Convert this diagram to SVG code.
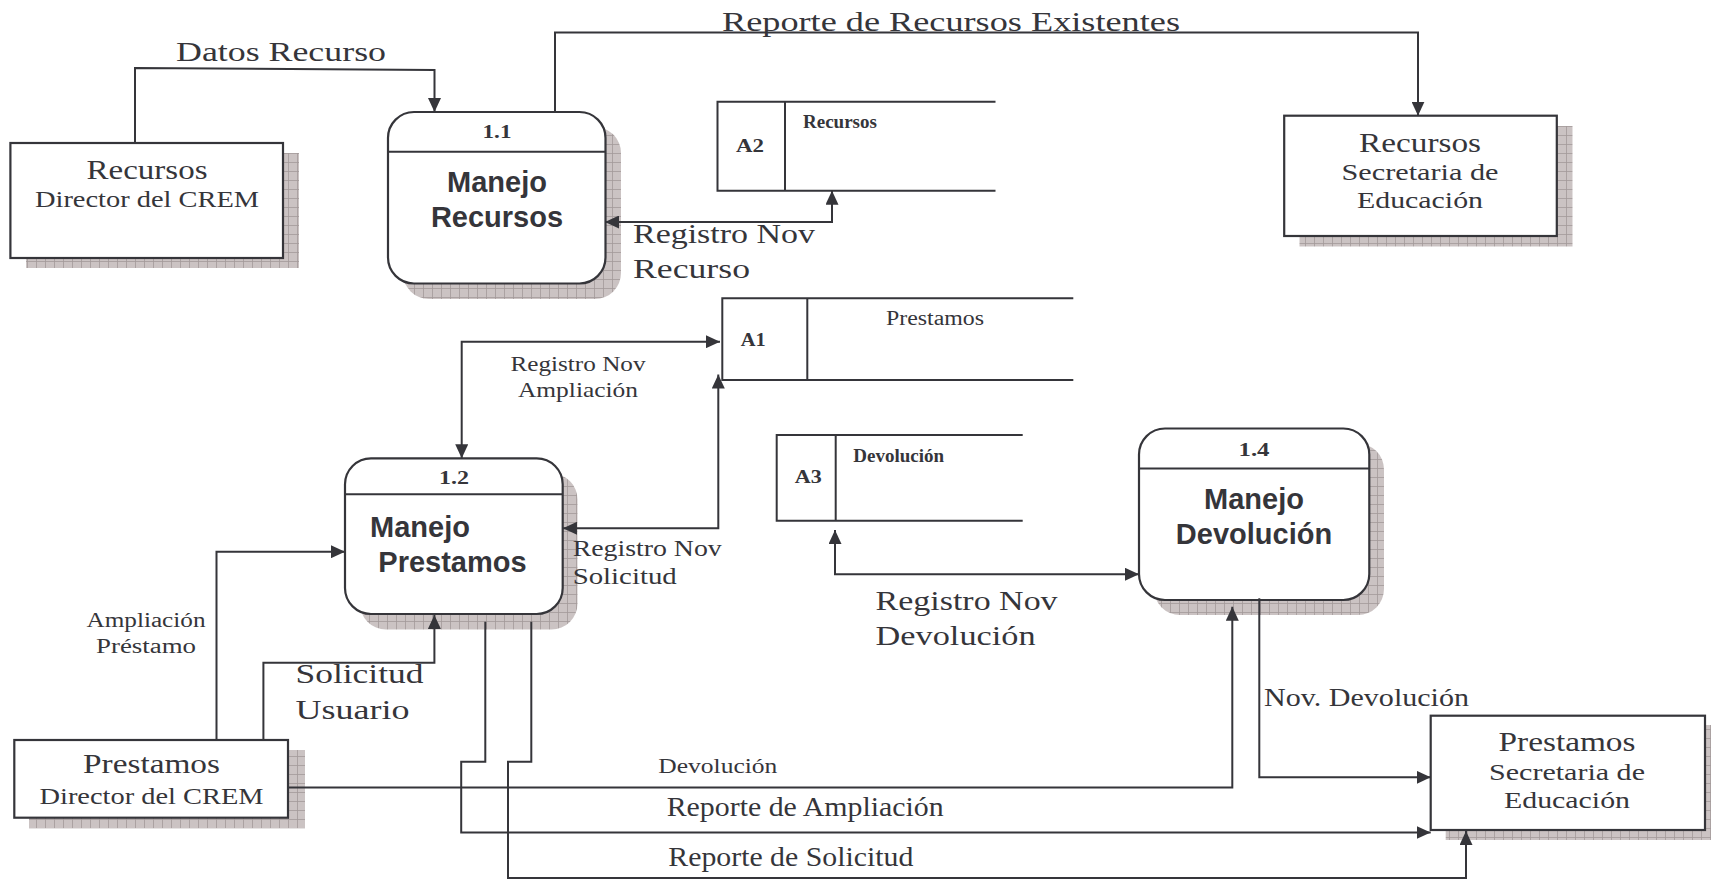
<svg xmlns="http://www.w3.org/2000/svg" width="1711" height="879" viewBox="0 0 1711 879">
  <defs>
    <!-- cross-hatched drop shadow fill -->
    <pattern id="hatch" width="9" height="9" patternUnits="userSpaceOnUse">
      <rect width="9" height="9" fill="#cbc3c3"/>
      <path d="M0,0.4 H9 M0.4,0 V9" stroke="#a29a9a" stroke-width="0.9" fill="none"/>
    </pattern>
    <marker id="arrow" viewBox="0 0 14 13" markerWidth="14" markerHeight="13" refX="14" refY="6.5" orient="auto-start-reverse" markerUnits="userSpaceOnUse">
      <path d="M0,0 L14,6.5 L0,13 z" fill="#35353a"/>
    </marker>
    <style>
      .box { fill: #ffffff; stroke: #35353a; stroke-width: 2.2; }
      .shadow { fill: url(#hatch); stroke: none; }
      .rule { stroke: #35353a; stroke-width: 2; fill: none; }
      .flow { stroke: #35353a; stroke-width: 2; fill: none; }
      .arr { marker-end: url(#arrow); }
      .both { marker-start: url(#arrow); marker-end: url(#arrow); }
      .serif { font-family: "Liberation Serif", "Times New Roman", serif; fill: #35353a; }
      .num { font-family: "Liberation Serif", "Times New Roman", serif; font-weight: bold; font-size: 19px; fill: #35353a; }
      .title { font-family: "Liberation Sans", Arial, sans-serif; font-weight: bold; font-size: 29px; fill: #35353a; }
      .storename { font-family: "Liberation Serif", "Times New Roman", serif; font-weight: bold; font-size: 19px; fill: #35353a; }
    </style>
  </defs>

  <rect width="1711" height="879" fill="#ffffff"/>

  <!-- external entity: Recursos / Director del CREM -->
  <g id="ent-recursos-director">
    <rect class="shadow" x="26" y="153" width="273" height="115"/>
    <rect class="box" x="10.4" y="143" width="272.6" height="115"/>
    <text class="serif" x="147" y="179" font-size="27" text-anchor="middle" textLength="121" lengthAdjust="spacingAndGlyphs">Recursos</text>
    <text class="serif" x="147" y="207.3" font-size="24" text-anchor="middle" textLength="224" lengthAdjust="spacingAndGlyphs">Director del CREM</text>
  </g>

  <!-- process 1.1 -->
  <g id="proc-1-1">
    <rect class="shadow" x="403" y="127" width="218" height="172" rx="26"/>
    <rect class="box" x="388" y="112" width="217.5" height="171.5" rx="26"/>
    <line class="rule" x1="388" y1="151.7" x2="605.5" y2="151.7"/>
    <text class="num" x="497" y="138" text-anchor="middle" textLength="29" lengthAdjust="spacingAndGlyphs">1.1</text>
    <text class="title" x="497" y="192" text-anchor="middle">Manejo</text>
    <text class="title" x="497" y="227" text-anchor="middle">Recursos</text>
  </g>

  <!-- data store A2 -->
  <g id="store-a2">
    <path class="rule" d="M995.5,101.7 H717.5 V190.7 H995.5 M785,101.7 V190.7"/>
    <text class="num" x="750" y="152" text-anchor="middle" textLength="28" lengthAdjust="spacingAndGlyphs">A2</text>
    <text class="storename" x="803" y="128">Recursos</text>
  </g>

  <!-- external entity: Recursos / Secretaria de Educación -->
  <g id="ent-recursos-secretaria">
    <rect class="shadow" x="1299.5" y="126" width="273" height="120.5"/>
    <rect class="box" x="1284.2" y="115.7" width="272.6" height="120.3"/>
    <text class="serif" x="1420" y="151.7" font-size="27" text-anchor="middle" textLength="122" lengthAdjust="spacingAndGlyphs">Recursos</text>
    <text class="serif" x="1420" y="180" font-size="23" text-anchor="middle" textLength="157" lengthAdjust="spacingAndGlyphs">Secretaria de</text>
    <text class="serif" x="1420" y="208.3" font-size="23" text-anchor="middle" textLength="126" lengthAdjust="spacingAndGlyphs">Educación</text>
  </g>

  <!-- data store A1 -->
  <g id="store-a1">
    <path class="rule" d="M1073.3,298.3 H722.3 V380 H1073.3 M807.3,298.3 V380"/>
    <text class="num" x="753.3" y="346" text-anchor="middle" textLength="25" lengthAdjust="spacingAndGlyphs">A1</text>
    <text class="serif" x="886" y="325" font-size="20" textLength="98" lengthAdjust="spacingAndGlyphs">Prestamos</text>
  </g>

  <!-- process 1.2 -->
  <g id="proc-1-2">
    <rect class="shadow" x="360" y="473.5" width="217.5" height="156" rx="26"/>
    <rect class="box" x="345" y="458.3" width="217.7" height="155.7" rx="26"/>
    <line class="rule" x1="345" y1="494.3" x2="562.7" y2="494.3"/>
    <text class="num" x="454" y="484.3" text-anchor="middle" textLength="30" lengthAdjust="spacingAndGlyphs">1.2</text>
    <text class="title" x="370" y="536.7">Manejo</text>
    <text class="title" x="378.3" y="571.7">Prestamos</text>
  </g>

  <!-- data store A3 -->
  <g id="store-a3">
    <path class="rule" d="M1022.7,435 H776.7 V520.7 H1022.7 M835.7,435 V520.7"/>
    <text class="num" x="808.3" y="483.3" text-anchor="middle" textLength="27" lengthAdjust="spacingAndGlyphs">A3</text>
    <text class="storename" x="853.3" y="461.7">Devolución</text>
  </g>

  <!-- process 1.4 -->
  <g id="proc-1-4">
    <rect class="shadow" x="1154" y="443.5" width="230" height="171.5" rx="26"/>
    <rect class="box" x="1139" y="428.5" width="230.3" height="171.5" rx="26"/>
    <line class="rule" x1="1139" y1="468.5" x2="1369.3" y2="468.5"/>
    <text class="num" x="1254" y="455.5" text-anchor="middle" textLength="31" lengthAdjust="spacingAndGlyphs">1.4</text>
    <text class="title" x="1254" y="509" text-anchor="middle">Manejo</text>
    <text class="title" x="1254" y="543.5" text-anchor="middle">Devolución</text>
  </g>

  <!-- external entity: Prestamos / Director del CREM -->
  <g id="ent-prestamos-director">
    <rect class="shadow" x="29" y="750" width="276" height="78.3"/>
    <rect class="box" x="14.3" y="740" width="273.7" height="77.7"/>
    <text class="serif" x="151.5" y="773.3" font-size="27" text-anchor="middle" textLength="137" lengthAdjust="spacingAndGlyphs">Prestamos</text>
    <text class="serif" x="151.5" y="804.3" font-size="24" text-anchor="middle" textLength="224" lengthAdjust="spacingAndGlyphs">Director del CREM</text>
  </g>

  <!-- external entity: Prestamos / Secretaria de Educación -->
  <g id="ent-prestamos-secretaria">
    <rect class="shadow" x="1445.7" y="725" width="270" height="115"/>
    <rect class="box" x="1430.7" y="715.7" width="274.3" height="114.3"/>
    <text class="serif" x="1567" y="750.7" font-size="27" text-anchor="middle" textLength="137" lengthAdjust="spacingAndGlyphs">Prestamos</text>
    <text class="serif" x="1567" y="780" font-size="23" text-anchor="middle" textLength="156" lengthAdjust="spacingAndGlyphs">Secretaria de</text>
    <text class="serif" x="1567" y="808.3" font-size="23" text-anchor="middle" textLength="126" lengthAdjust="spacingAndGlyphs">Educación</text>
  </g>

  <!-- connectors (drawn over the shadows) -->
  <g id="connectors">
    <path class="flow arr" d="M135,143 V68 L434.5,70 V112"/>
    <path class="flow arr" d="M555,112 V32.5 H1418 V115.7"/>
    <path class="flow both" d="M605,222 H832 V190.7"/>
    <path class="flow both" d="M720,341.7 H461.7 V458.3"/>
    <path class="flow both" d="M563,528.3 H718.3 V374.5"/>
    <path class="flow both" d="M835,530 V574.3 H1139"/>
    <path class="flow arr" d="M216.5,740 V551.7 H345"/>
    <path class="flow arr" d="M263.4,740 V662.7 H434.4 V615"/>
    <path class="flow arr" d="M485.3,621.7 V761.7 H461.2 V832.5 H1430.7"/>
    <path class="flow arr" d="M531.3,621.7 V761.7 H508 V878 H1466 V831"/>
    <path class="flow arr" d="M288,787.5 H1232.3 V606.7"/>
    <path class="flow arr" d="M1259.3,598.3 V777.3 H1430.7"/>

    <!-- flow labels -->
    <text class="serif" x="176" y="61" font-size="28" textLength="210" lengthAdjust="spacingAndGlyphs">Datos Recurso</text>
    <text class="serif" x="722" y="30.5" font-size="27" textLength="458" lengthAdjust="spacingAndGlyphs">Reporte de Recursos Existentes</text>
    <text class="serif" x="633" y="243.3" font-size="27" textLength="182" lengthAdjust="spacingAndGlyphs">Registro Nov</text>
    <text class="serif" x="633" y="278" font-size="27" textLength="117" lengthAdjust="spacingAndGlyphs">Recurso</text>
    <text class="serif" x="578" y="370.7" font-size="21" text-anchor="middle" textLength="135" lengthAdjust="spacingAndGlyphs">Registro Nov</text>
    <text class="serif" x="578" y="396.7" font-size="21" text-anchor="middle" textLength="120" lengthAdjust="spacingAndGlyphs">Ampliación</text>
    <text class="serif" x="572.7" y="556" font-size="24" textLength="149" lengthAdjust="spacingAndGlyphs">Registro Nov</text>
    <text class="serif" x="572.7" y="584" font-size="24" textLength="104" lengthAdjust="spacingAndGlyphs">Solicitud</text>
    <text class="serif" x="875.6" y="610" font-size="28" textLength="182" lengthAdjust="spacingAndGlyphs">Registro Nov</text>
    <text class="serif" x="875.6" y="645" font-size="28" textLength="160" lengthAdjust="spacingAndGlyphs">Devolución</text>
    <text class="serif" x="146" y="626.7" font-size="20" text-anchor="middle" textLength="119" lengthAdjust="spacingAndGlyphs">Ampliación</text>
    <text class="serif" x="146" y="653.3" font-size="20" text-anchor="middle" textLength="100" lengthAdjust="spacingAndGlyphs">Préstamo</text>
    <text class="serif" x="295.5" y="683.3" font-size="28" textLength="128" lengthAdjust="spacingAndGlyphs">Solicitud</text>
    <text class="serif" x="295.5" y="719.3" font-size="28" textLength="114" lengthAdjust="spacingAndGlyphs">Usuario</text>
    <text class="serif" x="658.3" y="773.3" font-size="20" textLength="119" lengthAdjust="spacingAndGlyphs">Devolución</text>
    <text class="serif" x="666.7" y="816" font-size="28" textLength="277" lengthAdjust="spacingAndGlyphs">Reporte de Ampliación</text>
    <text class="serif" x="668.3" y="866" font-size="28" textLength="245" lengthAdjust="spacingAndGlyphs">Reporte de Solicitud</text>
    <text class="serif" x="1264" y="706" font-size="26" textLength="205" lengthAdjust="spacingAndGlyphs">Nov. Devolución</text>
  </g>
</svg>
